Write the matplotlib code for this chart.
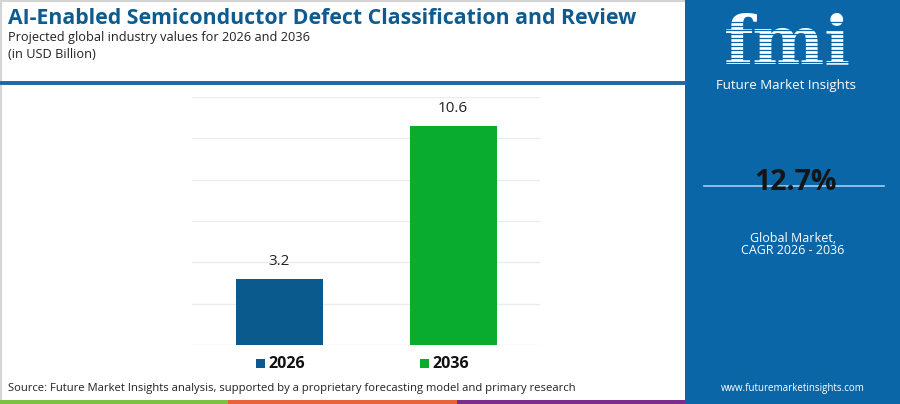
import matplotlib
matplotlib.use("Agg")
import matplotlib.pyplot as plt
from matplotlib.patches import Rectangle

# ---- data ----
years = ["2026", "2036"]
values = [3.2, 10.6]
bar_colors = ["#0b5a8e", "#0aac2f"]
cagr_text = "12.7%"
title = "AI-Enabled Semiconductor Defect Classification and Review"
subtitle = "Projected global industry values for 2026 and 2036"
unit = "(in USD Billion)"
source = "Source: Future Market Insights analysis, supported by a proprietary forecasting model and primary research"

W, H = 900, 404
fig = plt.figure(figsize=(W / 100, H / 100), dpi=100)
fig.patch.set_facecolor("white")

def fx(px):
    return px / W

def fy(py):
    return 1 - py / H

FONT = ["Open Sans", "DejaVu Sans"]

# ---- outer border ----
fig.patches.append(Rectangle((0, 0), 1, 1, transform=fig.transFigure, fill=False,
                             edgecolor="#d4d4d4", linewidth=3, zorder=0))

# ---- header ----
fig.text(fx(8), fy(19), title, fontsize=15.3, fontweight="bold", color="#0e5c8f",
         ha="left", va="center", family=FONT)
fig.text(fx(8), fy(37), subtitle, fontsize=9.2, color="#222222", ha="left", va="center", family=FONT)
fig.text(fx(8), fy(54), unit, fontsize=9.2, color="#222222", ha="left", va="center", family=FONT)

# blue separator line
fig.add_artist(plt.Line2D([0, fx(685)], [fy(83), fy(83)], transform=fig.transFigure,
                          color="#1c67a6", linewidth=2.8))

# ---- chart ----
ax = fig.add_axes([fx(192), fy(345.3), fx(540) - fx(192), fy(96.7) - fy(345.3)])
x = list(range(len(years)))
bars = ax.bar(x, values, width=0.5, color=bar_colors, zorder=3)
ax.set_xlim(-0.5, len(years) - 0.5)
ax.set_ylim(0, 12)
ax.set_yticks(range(0, 13, 2))
ax.yaxis.grid(True, color="#ececec", linewidth=1, zorder=0)
ax.set_axisbelow(True)
for s in ax.spines.values():
    s.set_visible(False)
ax.tick_params(left=False, bottom=False, labelleft=False, labelbottom=False)
for xi, v in zip(x, values):
    ax.annotate(f"{v:.1f}", (xi, v), xytext=(0, 7), textcoords="offset points",
                ha="center", va="bottom", fontsize=11, color="#222222", family=FONT)

# ---- legend ----
leg_sq_x = [256, 420]
for lx, yr, c in zip(leg_sq_x, years, bar_colors):
    fig.patches.append(Rectangle((fx(lx), fy(368)), fx(9), 9 / H, transform=fig.transFigure,
                                 facecolor=c, edgecolor="none"))
    fig.text(fx(lx + 12), fy(363.5), yr, fontsize=11.5, fontweight="bold", color="#111111",
             ha="left", va="center", family=FONT)

# ---- source + strip ----
fig.text(fx(8), fy(388), source, fontsize=8.1, color="#222222", ha="left", va="center", family=FONT)
strip_cols = ["#7cc142", "#e8623a", "#7b2d8e"]
for i, c in enumerate(strip_cols):
    fig.patches.append(Rectangle((fx(228.3 * i), 0), fx(228.3), 4 / H, transform=fig.transFigure,
                                 facecolor=c, edgecolor="none"))

# ---- right panel ----
panel = "#0a66a7"
fig.patches.append(Rectangle((fx(685), 0), 1 - fx(685), 1, transform=fig.transFigure,
                             facecolor=panel, edgecolor="none", zorder=1))
# logo
fig.text(fx(787), fy(45), "fmi", fontsize=49, fontweight="bold", color="white",
         ha="center", va="center", family=["DejaVu Serif"], zorder=2)
for yy in range(22, 78, 4):
    fig.add_artist(plt.Line2D([fx(712), fx(864)], [fy(yy), fy(yy)], transform=fig.transFigure,
                              color=panel, linewidth=0.9, zorder=3))
fig.text(fx(786), fy(85), "Future Market Insights", fontsize=9.5, color="white",
         ha="center", va="center", family=FONT, zorder=4)

# CAGR
fig.add_artist(plt.Line2D([fx(704), fx(884)], [fy(186), fy(186)], transform=fig.transFigure,
                          color="#a9cbe6", linewidth=1.2, zorder=2))
fig.text(fx(796), fy(183), cagr_text, fontsize=20.5, fontweight="bold", color="#151515",
         ha="center", va="center", family=FONT, zorder=3)
fig.text(fx(793), fy(238), "Global Market,", fontsize=9, color="white", ha="center",
         va="center", family=FONT, zorder=3)
fig.text(fx(793), fy(250.5), "CAGR 2026 - 2036", fontsize=9, color="white", ha="center",
         va="center", family=FONT, zorder=3)
fig.text(fx(793), fy(389), "www.futuremarketinsights.com", fontsize=7, color="white",
         ha="center", va="center", family=FONT, zorder=3)

fig.savefig("out.png", dpi=100)
